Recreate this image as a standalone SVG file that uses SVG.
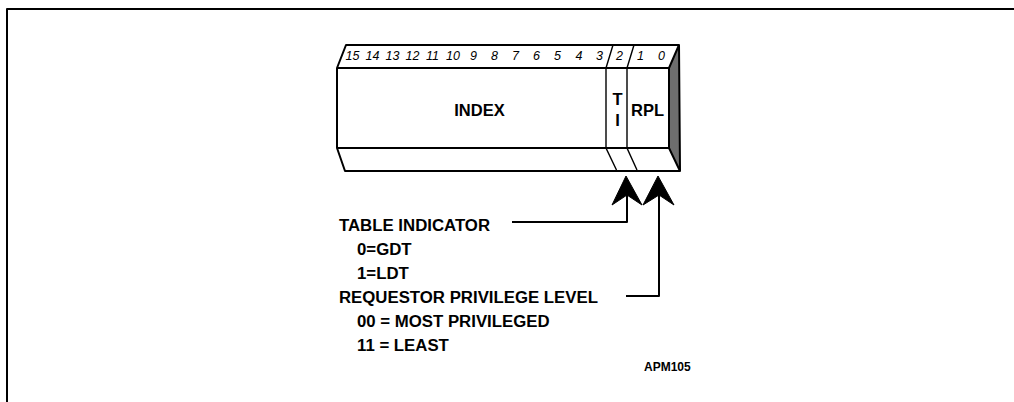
<svg xmlns="http://www.w3.org/2000/svg" width="1014" height="402" viewBox="0 0 1014 402">
<style>
.ln{fill:none;stroke:#000;stroke-width:2;stroke-linejoin:round}
.thin{fill:none;stroke:#000;stroke-width:1.4}
.bit{font-family:"Liberation Sans",Arial,sans-serif;font-style:italic;font-size:12.5px;fill:#000;text-anchor:middle}
.lbl{font-family:"Liberation Sans",Arial,sans-serif;font-weight:bold;font-size:16.8px;fill:#000}
.fld{font-family:"Liberation Sans",Arial,sans-serif;font-weight:bold;font-size:16.5px;fill:#000;text-anchor:middle}
.small{font-family:"Liberation Sans",Arial,sans-serif;font-weight:bold;font-size:12px;fill:#000}
.head{fill:#000;stroke:#000;stroke-width:1;stroke-linejoin:round}
</style>
<rect width="1014" height="402" fill="#fff"/>
<g id="frame">
<path class="ln" d="M7,402 V9 H1014"/>
</g>
<g id="register">
<polygon points="669,68 679,45 680,171 669,148" fill="#6e6e6e"/>
<path class="ln" d="M346,45 H679 L680,171 H345 L337,148 V68 Z"/>
<path class="ln" d="M337,68 H669 L679,45 M669,68 V148 H337 M669,148 L680,171"/>
<path class="thin" d="M606,68 L613,45 M627,68 L634,45 M606,68 V148 L616.5,170 M627,68 V148 L637,170"/>
<g id="bits">
<text class="bit" x="352.5" y="59.5">15</text>
<text class="bit" x="372.5" y="59.5">14</text>
<text class="bit" x="392.5" y="59.5">13</text>
<text class="bit" x="412.5" y="59.5">12</text>
<text class="bit" x="432.5" y="59.5">11</text>
<text class="bit" x="453" y="59.5">10</text>
<text class="bit" x="473.5" y="59.5">9</text>
<text class="bit" x="494.5" y="59.5">8</text>
<text class="bit" x="515.5" y="59.5">7</text>
<text class="bit" x="536.5" y="59.5">6</text>
<text class="bit" x="557.5" y="59.5">5</text>
<text class="bit" x="579" y="59.5">4</text>
<text class="bit" x="599.5" y="59.5">3</text>
<text class="bit" x="619.5" y="59.5">2</text>
<text class="bit" x="640.5" y="59.5">1</text>
<text class="bit" x="661.5" y="59.5">0</text>
</g>
<text class="fld" x="479.5" y="116">INDEX</text>
<text class="fld" x="617.5" y="105">T</text>
<text class="fld" x="617.5" y="126">I</text>
<text class="fld" x="647.5" y="116">RPL</text>
</g>
<g id="connectors">
<path class="ln" d="M627,194 V222 H512"/>
<path class="head" d="M626,176 L642,205 L627,195 L612,205 Z"/>
<path class="ln" d="M659,194 V296 H626"/>
<path class="head" d="M658,176 L674,205 L659,195 L643,205 Z"/>
</g>
<g id="table-indicator">
<text class="lbl" x="339" y="231">TABLE INDICATOR</text>
<text class="lbl" x="357" y="255">0=GDT</text>
<text class="lbl" x="357" y="279">1=LDT</text>
</g>
<g id="requestor-privilege-level">
<text class="lbl" x="339" y="303">REQUESTOR PRIVILEGE LEVEL</text>
<text class="lbl" x="357" y="327">00 = MOST PRIVILEGED</text>
<text class="lbl" x="357" y="351">11 = LEAST</text>
</g>
<g id="apm105">
<text class="small" x="644" y="371">APM105</text>
</g>
</svg>
